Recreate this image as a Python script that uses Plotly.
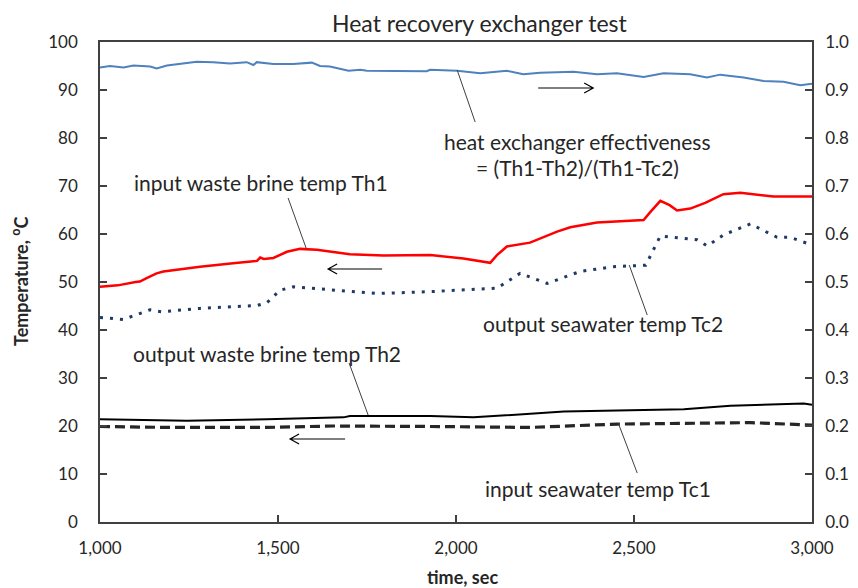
import plotly.graph_objects as go

# ---- data ----
eff_t = [1000, 1028, 1066, 1094, 1141, 1159, 1188, 1234, 1272, 1318, 1365, 1412, 1431, 1440,
         1487, 1543, 1595, 1618, 1646, 1698, 1731, 1750, 1843, 1918, 1927, 2003, 2068, 2143,
         2189, 2236, 2330, 2396, 2452, 2527, 2583, 2658, 2705, 2742, 2808, 2864, 2920, 2967, 3000]
eff_v = [0.947, 0.950, 0.947, 0.951, 0.949, 0.945, 0.951, 0.955, 0.959, 0.958, 0.955, 0.958, 0.952, 0.958,
         0.954, 0.954, 0.957, 0.950, 0.949, 0.940, 0.942, 0.940, 0.939, 0.939, 0.942, 0.940, 0.935, 0.940,
         0.933, 0.936, 0.938, 0.933, 0.935, 0.927, 0.935, 0.933, 0.926, 0.932, 0.926, 0.919, 0.917, 0.910, 0.913]

th1_t = [1000, 1050, 1100, 1112, 1131, 1159, 1178, 1205, 1281, 1374, 1441, 1450, 1460, 1487, 1525,
         1562, 1609, 1702, 1796, 1928, 2021, 2096, 2115, 2143, 2208, 2284, 2321, 2396, 2527, 2545,
         2574, 2600, 2621, 2658, 2700, 2751, 2799, 2892, 3000]
th1_v = [49.0, 49.3, 50.0, 50.1, 50.8, 51.8, 52.2, 52.5, 53.2, 53.9, 54.4, 55.1, 54.8, 55.0, 56.3,
         56.9, 56.7, 55.8, 55.5, 55.6, 54.9, 54.0, 55.6, 57.4, 58.2, 60.5, 61.4, 62.4, 62.9, 64.5,
         66.9, 66.0, 64.9, 65.3, 66.5, 68.3, 68.6, 67.8, 67.8]

tc2_t = [1000, 1066, 1140, 1173, 1281, 1441, 1469, 1506, 1543, 1655, 1778, 1928, 2115, 2180,
         2256, 2349, 2443, 2533, 2574, 2677, 2706, 2751, 2827, 2902, 2939, 3000]
tc2_v = [42.6, 42.2, 44.2, 43.8, 44.5, 45.1, 45.7, 48.3, 49.0, 48.3, 47.6, 48.0, 48.7, 51.8,
         49.7, 52.2, 53.2, 53.5, 59.6, 58.8, 57.5, 59.8, 62.1, 59.3, 59.3, 57.7]

th2_t = [1000, 1244, 1469, 1684, 1702, 1928, 2049, 2303, 2640, 2771, 2977, 3000]
th2_v = [21.4, 21.1, 21.4, 21.8, 22.1, 22.1, 21.8, 23.0, 23.5, 24.2, 24.7, 24.4]

tc1_t = [1000, 1188, 1469, 1655, 1928, 2209, 2453, 2677, 2827, 3000]
tc1_v = [19.9, 19.7, 19.7, 20.0, 19.9, 19.7, 20.4, 20.6, 20.7, 20.2]

x_ticks = [1000, 1500, 2000, 2500, 3000]

FONT = "Lato"
TXT = "#262626"

fig = go.Figure()
fig.add_trace(go.Scatter(x=th2_t, y=th2_v, mode="lines", line=dict(color="#000000", width=2), yaxis="y"))
fig.add_trace(go.Scatter(x=tc1_t, y=tc1_v, mode="lines", line=dict(color="#262626", width=3.2, dash="10px,5px"), yaxis="y"))
fig.add_trace(go.Scatter(x=tc2_t, y=tc2_v, mode="lines", line=dict(color="#1F3864", width=3, dash="3px,7px"), yaxis="y"))
fig.add_trace(go.Scatter(x=th1_t, y=th1_v, mode="lines", line=dict(color="#FF0000", width=2.5), yaxis="y"))
fig.add_trace(go.Scatter(x=eff_t, y=eff_v, mode="lines", line=dict(color="#4F81BD", width=2), yaxis="y2"))

axis_common = dict(showgrid=False, zeroline=False, showline=True, linecolor="#404040", linewidth=1.5,
                   ticks="inside", ticklen=7, tickcolor="#404040", tickwidth=1.5,
                   tickfont=dict(family=FONT, size=17, color=TXT))

fig.update_layout(
    width=850, height=580,
    margin=dict(l=92, r=46, t=34, b=66, autoexpand=False),
    paper_bgcolor="white", plot_bgcolor="white",
    showlegend=False,
    font=dict(family=FONT, color=TXT),
    xaxis=dict(range=[1000, 3000], tickvals=x_ticks, tickformat=",", mirror=True,
               ticklabelstandoff=10, **axis_common),
    yaxis=dict(range=[0, 100], dtick=10, ticklabelstandoff=17, **axis_common),
    yaxis2=dict(range=[0, 1], dtick=0.1, tickformat=".1f", overlaying="y", side="right",
                ticklabelstandoff=8, **axis_common),
)


# screenshot pixel -> paper coordinates of the plot area (100..811.7, 522..42)
def P(px, py):
    return (px - 100) / 711.7, (522 - py) / 480


ann_font = dict(family=FONT, size=21, color=TXT)
annos = [
    dict(x=480, y=23, text="Heat recovery exchanger test", font=dict(family=FONT, size=23, color=TXT)),
    dict(x=20, y=281, text="<b>Temperature, <sup>o</sup>C</b>", textangle=-90,
         font=dict(family=FONT, size=18, color=TXT)),
    dict(x=462, y=577, text="<b>time, sec</b>", font=dict(family=FONT, size=18, color=TXT)),
    dict(x=577, y=141, text="heat exchanger effectiveness", font=ann_font),
    dict(x=577, y=168, text="= (Th1-Th2)/(Th1-Tc2)", font=ann_font),
    dict(x=261, y=183, text="input waste brine temp Th1", font=ann_font),
    dict(x=603, y=323, text="output seawater temp Tc2", font=ann_font),
    dict(x=267, y=353, text="output waste brine temp Th2", font=ann_font),
    dict(x=598, y=488, text="input seawater temp Tc1", font=ann_font),
]
for a in annos:
    ax, ay = P(a["x"], a["y"])
    fig.add_annotation(x=ax, y=ay, xref="paper", yref="paper",
                       text=a["text"], showarrow=False, font=a["font"],
                       textangle=a.get("textangle", 0), xanchor="center", yanchor="middle")

# leader lines and direction arrows
leaders = [((457, 70), (475, 122)), ((288, 198), (306, 248)), ((629, 265), (647, 315)),
           ((349, 363), (368, 415)), ((618, 423), (637, 473))]
for (a, b) in leaders:
    x0, y0 = P(*a); x1, y1 = P(*b)
    fig.add_shape(type="line", xref="paper", yref="paper", x0=x0, y0=y0, x1=x1, y1=y1,
                  line=dict(color="#404040", width=1))

arrows = [((538, 88), (593, 88)), ((382, 269), (328, 269)), ((345, 439), (290, 439))]
for (a, b) in arrows:
    x0, y0 = P(*a); x1, y1 = P(*b)
    d = 1 if b[0] > a[0] else -1
    hx, hy1 = P(b[0] - d * 9, b[1] - 5)
    _, hy2 = P(b[0] - d * 9, b[1] + 5)
    path = f"M {x0} {y0} L {x1} {y1} M {hx} {hy1} L {x1} {y1} L {hx} {hy2}"
    fig.add_shape(type="path", xref="paper", yref="paper", path=path,
                  line=dict(color="#000000", width=1.2))

fig.write_html("out.html")
